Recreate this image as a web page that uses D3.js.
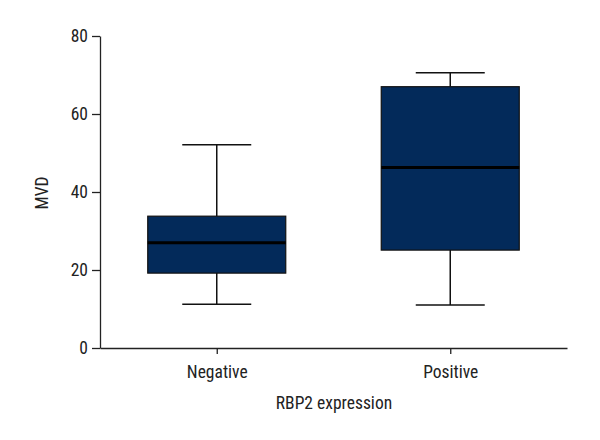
<!DOCTYPE html>
<html><head><meta charset="utf-8">
<script src="https://cdn.jsdelivr.net/npm/d3@7"></script>
<style>
body{margin:0;background:#fff;}
text{font-family:"Liberation Sans Narrow","Roboto Condensed","DejaVu Sans Condensed",sans-serif;}
</style></head>
<body><svg id="c" width="600" height="440"></svg>
<script>
const categories = ["Negative", "Positive"];
const whiskerLow = [11.2, 11.0];
const q1 = [19.2, 25.1];
const median = [27.0, 46.3];
const q3 = [33.8, 67.0];
const whiskerHigh = [52.1, 70.6];
const yTicks = [0, 20, 40, 60, 80];

const svg = d3.select("#c");
const x = d3.scalePoint().domain(categories).range([100, 567]).padding(0.5);
const y = d3.scaleLinear().domain([0, 80]).range([348, 36]);
const boxW = 138, capW = 69;
const fill = "#032a5a";
const fs = 17.5;

const data = categories.map((c, i) => ({c, lo: whiskerLow[i], q1: q1[i], med: median[i], q3: q3[i], hi: whiskerHigh[i]}));

const g = svg.append("g");
data.forEach(d => {
  const cx = x(d.c);
  g.append("line").attr("x1", cx).attr("x2", cx).attr("y1", y(d.hi)).attr("y2", y(d.q3)).attr("stroke", "#111").attr("stroke-width", 1.5);
  g.append("line").attr("x1", cx).attr("x2", cx).attr("y1", y(d.q1)).attr("y2", y(d.lo)).attr("stroke", "#111").attr("stroke-width", 1.5);
  g.append("line").attr("x1", cx - capW/2).attr("x2", cx + capW/2).attr("y1", y(d.hi)).attr("y2", y(d.hi)).attr("stroke", "#111").attr("stroke-width", 1.5);
  g.append("line").attr("x1", cx - capW/2).attr("x2", cx + capW/2).attr("y1", y(d.lo)).attr("y2", y(d.lo)).attr("stroke", "#111").attr("stroke-width", 1.5);
  g.append("rect").attr("x", cx - boxW/2).attr("width", boxW).attr("y", y(d.q3)).attr("height", y(d.q1) - y(d.q3))
    .attr("fill", fill).attr("stroke", "#111").attr("stroke-width", 1.2);
  g.append("line").attr("x1", cx - boxW/2).attr("x2", cx + boxW/2).attr("y1", y(d.med)).attr("y2", y(d.med)).attr("stroke", "#000").attr("stroke-width", 3);
});

const yAxis = svg.append("g").attr("transform", "translate(100,0)")
  .call(d3.axisLeft(y).tickValues(yTicks).tickSize(8).tickPadding(4).tickSizeOuter(0));
yAxis.selectAll("text").attr("font-size", fs).attr("fill", "#222");
yAxis.selectAll("line,path").attr("stroke", "#222").attr("stroke-width", 1.3);

const xAxis = svg.append("g").attr("transform", "translate(0,348)")
  .call(d3.axisBottom(x).tickSize(6).tickPadding(12).tickSizeOuter(0));
xAxis.selectAll("text").attr("font-size", fs).attr("fill", "#222");
xAxis.selectAll("line,path").attr("stroke", "#222").attr("stroke-width", 1.3);

svg.append("text").attr("x", 334).attr("y", 409).attr("text-anchor", "middle").attr("font-size", fs).attr("fill", "#222").text("RBP2 expression");
svg.append("text").attr("transform", "translate(48,193) rotate(-90)").attr("text-anchor", "middle").attr("font-size", fs).attr("fill", "#222").text("MVD");
</script></body></html>
